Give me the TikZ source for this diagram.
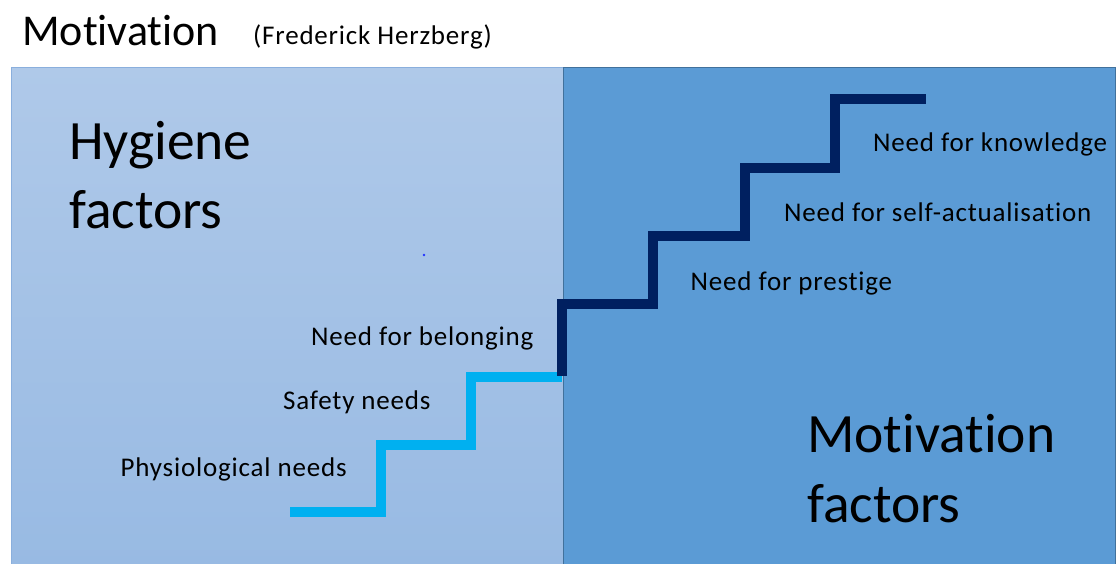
\documentclass[tikz,border=0pt]{standalone}
\usepackage{fontspec}
\setmainfont{Carlito}[Ligatures={NoCommon}]
\newfontfamily\labelfont{Carlito}[Ligatures={NoCommon}, LetterSpace=3]
\definecolor{hygtop}{HTML}{AFC9E9}
\definecolor{hygbot}{HTML}{98BAE3}
\definecolor{hygedge}{HTML}{8AAFDD}
\definecolor{motfill}{HTML}{5B9BD5}
\definecolor{motedge}{HTML}{41719C}
\definecolor{lowstair}{HTML}{00B0F0}
\definecolor{highstair}{HTML}{002060}
\definecolor{dotblue}{HTML}{2233FF}
\tikzset{
  label text/.style={anchor=base west, inner sep=0pt, text=black,
    font=\labelfont\fontsize{27}{32}\selectfont},
  big text/.style={anchor=base west, inner sep=0pt, text=black,
    font=\fontsize{55.5}{66}\selectfont},
  stair line/.style={line width=10pt, line cap=butt, line join=miter}
}
\begin{document}
\begin{tikzpicture}[x=1pt, y=-1pt]
  \useasboundingbox (0,0) rectangle (1118,563);
  \begin{scope}
    \clip (0,0) rectangle (1118,563);
    % two panels
    \shade[top color=hygtop, bottom color=hygbot] (11,67) rectangle (563,566);
    \draw[hygedge, line width=1pt] (11,566) -- (11,67) -- (563,67);
    \fill[motfill] (563,67) rectangle (1115,566);
    \draw[motedge, line width=1pt] (563,566) -- (563,67) -- (1115,67) -- (1115,566);
  \end{scope}

  % titles
  \node[anchor=base west, inner sep=0pt, font=\fontsize{44}{53}\selectfont] (title) at (22,45) {Motivation};
  \node[label text] (author) at (253,44) {(Frederick Herzberg)};

  \node[big text] (hyg1) at (69,159) {Hygiene};
  \node[big text] (hyg2) at (69,228) {factors};
  \node[big text] (mot1) at (807,452) {Motivation};
  \node[big text] (mot2) at (807,522) {factors};

  % stairs
  \draw[stair line, lowstair] (290,512.3) -- (380.7,512.3) -- (380.7,445) -- (471.3,445)
    -- (471.3,377.3) -- (562,377.3);
  \draw[stair line, highstair] (562,375.7) -- (562,304) -- (653.3,304) -- (653.3,236.3)
    -- (744.7,236.3) -- (744.7,168) -- (835.3,168) -- (835.3,99.3) -- (926,99.3);

  % step labels
  \node[label text] (n1) at (120.5,476) {Physiological needs};
  \node[label text] (n2) at (283,409) {Safety needs};
  \node[label text] (n3) at (311,345) {Need for belonging};
  \node[label text] (n4) at (690.5,290) {Need for prestige};
  \node[label text] (n5) at (784,221.7) {Need for self-actualisation};
  \node[label text] (n6) at (873,151.7) {Need for knowledge};

  \fill[dotblue] (424,255) circle (1.4pt);
\end{tikzpicture}
\end{document}
